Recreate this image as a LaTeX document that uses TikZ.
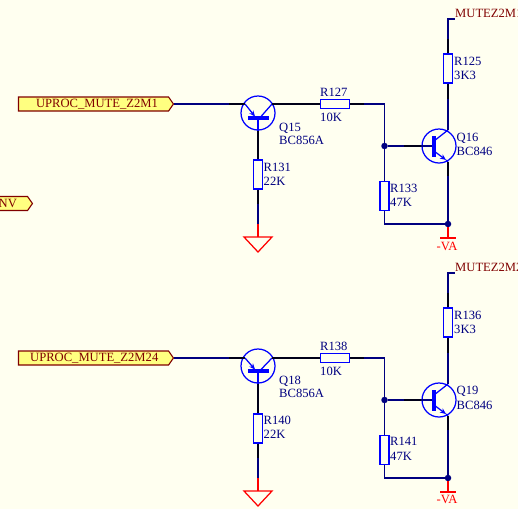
\documentclass[tikz,border=0pt]{standalone}
\usepackage{xcolor}
\usepackage{fontspec}
\setmainfont{Liberation Serif}
\usetikzlibrary{shapes.symbols,arrows.meta}
\definecolor{sheetbg}{RGB}{255,255,240}
\definecolor{wirecol}{RGB}{0,0,128}
\definecolor{partcol}{RGB}{0,0,255}
\definecolor{portcol}{RGB}{128,0,0}
\definecolor{portfill}{RGB}{255,255,128}
\tikzset{
  wire/.style={wirecol, line width=1.25pt},
  pinwire/.style={black!80!wirecol, line width=1.25pt},
  power/.style={red, line width=1.25pt},
  part/.style={partcol, line width=1.25pt},
  lbl/.style={anchor=base west, inner sep=0pt, text=wirecol, font=\fontsize{12.6}{14}\selectfont},
  netlbl/.style={lbl, text=portcol},
  powlbl/.style={lbl, text=red},
  res/.style={draw=partcol, line width=1.25pt, inner sep=0pt, minimum width=9pt, minimum height=29pt},
  resh/.style={res, minimum width=29pt, minimum height=9pt},
  qbody/.style={circle, draw=partcol, line width=1.25pt, inner sep=0pt, minimum size=34pt},
  qbarh/.style={fill=partcol, inner sep=0pt, minimum width=21pt, minimum height=3.2pt},
  qbarv/.style={fill=partcol, inner sep=0pt, minimum width=3.2pt, minimum height=21pt},
  dot/.style={circle, fill=wirecol, inner sep=0pt, minimum size=6.5pt},
  port/.style={signal, signal to=east, signal pointer angle=110, draw=portcol, fill=portfill, line width=1.1pt, inner sep=0pt, minimum height=14pt, text=portcol, font=\fontsize{12.6}{14}\selectfont},
  gnd/.style={draw=red, line width=1.25pt, line join=miter},
  emit/.style={part, -{Stealth[length=6pt,width=5pt]}}
}
\begin{document}
\begin{tikzpicture}[x=1pt, y=-1pt]
    \useasboundingbox (0,0) rectangle (518,509);
    \fill[sheetbg] (0,0) rectangle (518,509);

    % upper channel
    \node (port1) at (93.5,104) [port, minimum width=155pt] {\hspace*{7pt}UPROC\_MUTE\_Z2M1};
    \node (portnv) at (-2,203.5) [port, minimum width=64pt] {};
    \node (nvlbl) at (-1.5,207.5) [netlbl] {NV};
    \node (Q15) at (258,113) [qbody] {};
    \node (Q15bar) at (258,118) [qbarh] {};
    \node (R127) at (335,104) [resh] {};
    \node (R131) at (258,174.5) [res] {};
    \node (R133) at (384.5,196) [res] {};
    \node (Q16) at (439,146) [qbody] {};
    \node (Q16bar) at (434,146) [qbarv] {};
    \node (R125) at (448,68.5) [res] {};
    \node (j1) at (384.5,146) [dot] {};
    \node (j2) at (448,224) [dot] {};
    \coordinate (Q15e) at (245,104);
    \coordinate (Q15c) at (272,104);
    \coordinate (Q16c) at (448,130);
    \coordinate (Q16e) at (448,162);
    \coordinate (c1) at (384.5,104);
    \coordinate (net1) at (448,19);
    \coordinate (net1end) at (455,19);
    \coordinate (gnd1) at (258,237);
    \coordinate (va1) at (448,238);

    \draw[wire] (port1.east) -- (Q15e);
    \draw[pinwire] (Q15e) -- ++(-16,0);
    \draw[emit] (Q15e) -- (255,116.5);
    \draw[part] (Q15c) -- (261,116.5);
    \draw[pinwire] (Q15c) -- (R127.west);
    \draw[wire] (R127.east) -- (c1) -- (j1) -- (R133.north);
    \draw[pinwire] (R127.east) -- ++(14,0);
    \draw[wire] (R133.south) |- (j2) -- (Q16e);
    \draw[wire] (j1) -- (Q16bar.west);
    \draw[pinwire] (Q16.west) -- ++(-17,0);
    \draw[part] (Q16bar.center) ++(0,-5) -- (Q16c);
    \draw[emit] (Q16bar.center) ++(0,5) -- (446,160);
    \draw[part] (446,160) -- (Q16e);
    \draw[pinwire] (Q16e) -- ++(0,14);
    \draw[wire] (Q16c) -- (R125.south);
    \draw[pinwire] (R125.south) -- ++(0,15);
    \draw[wire] (R125.north) -- (net1) -- (net1end);
    \draw[pinwire] (R125.north) -- ++(0,-14);
    \draw[part] (Q15bar.center) -- (Q15.south);
    \draw[pinwire] (Q15.south) -- (R131.north);
    \draw[wire] (R131.south) -- (258,224);
    \draw[pinwire] (R131.south) -- ++(0,14);
    \draw[power] (258,224) -- (gnd1);
    \draw[gnd] (244,237) -- (272,237) -- (258,252) -- cycle;
    \draw[power] (j2) -- (va1);
    \draw[power] (440,238) -- (456,238);

    \node (R127t) at (320,96) [lbl] {R127};
    \node (R127v) at (320,121) [lbl] {10K};
    \node (Q15t) at (279,131) [lbl] {Q15};
    \node (Q15v) at (279,144) [lbl] {BC856A};
    \node (R131t) at (263.5,171.5) [lbl] {R131};
    \node (R131v) at (263.5,185.5) [lbl] {22K};
    \node (R133t) at (390,192) [lbl] {R133};
    \node (R133v) at (390,206.5) [lbl] {47K};
    \node (Q16t) at (456.5,141) [lbl] {Q16};
    \node (Q16v) at (456.5,155) [lbl] {BC846};
    \node (R125t) at (454,65) [lbl] {R125};
    \node (R125v) at (454,79) [lbl] {3K3};
    \node (net1t) at (455,17) [netlbl] {MUTEZ2M1};
    \node (va1t) at (436.5,250) [powlbl] {-VA};

    % lower channel
    \node (port2) at (93.5,358) [port, minimum width=155pt] {\hspace*{1.5pt}UPROC\_MUTE\_Z2M24};
    \node (Q18) at (258,366) [qbody] {};
    \node (Q18bar) at (258,371) [qbarh] {};
    \node (R138) at (335,358) [resh] {};
    \node (R140) at (258,428.5) [res] {};
    \node (R141) at (384.5,450) [res] {};
    \node (Q19) at (439,400) [qbody] {};
    \node (Q19bar) at (434,400) [qbarv] {};
    \node (R136) at (448,322.5) [res] {};
    \node (j3) at (384.5,400) [dot] {};
    \node (j4) at (448,478) [dot] {};
    \coordinate (Q18e) at (245,358);
    \coordinate (Q18c) at (272,358);
    \coordinate (Q19c) at (448,384);
    \coordinate (Q19e) at (448,416);
    \coordinate (c3) at (384.5,358);
    \coordinate (net2) at (448,273);
    \coordinate (net2end) at (455,273);
    \coordinate (gnd2) at (258,491);
    \coordinate (va2) at (448,492);

    \draw[wire] (port2.east) -- (Q18e);
    \draw[pinwire] (Q18e) -- ++(-16,0);
    \draw[emit] (Q18e) -- (255,369.5);
    \draw[part] (Q18c) -- (261,369.5);
    \draw[pinwire] (Q18c) -- (R138.west);
    \draw[wire] (R138.east) -- (c3) -- (j3) -- (R141.north);
    \draw[pinwire] (R138.east) -- ++(14,0);
    \draw[wire] (R141.south) |- (j4) -- (Q19e);
    \draw[wire] (j3) -- (Q19bar.west);
    \draw[pinwire] (Q19.west) -- ++(-17,0);
    \draw[part] (Q19bar.center) ++(0,-5) -- (Q19c);
    \draw[emit] (Q19bar.center) ++(0,5) -- (446,414);
    \draw[part] (446,414) -- (Q19e);
    \draw[pinwire] (Q19e) -- ++(0,14);
    \draw[wire] (Q19c) -- (R136.south);
    \draw[pinwire] (R136.south) -- ++(0,15);
    \draw[wire] (R136.north) -- (net2) -- (net2end);
    \draw[pinwire] (R136.north) -- ++(0,-14);
    \draw[part] (Q18bar.center) -- (Q18.south);
    \draw[pinwire] (Q18.south) -- (R140.north);
    \draw[wire] (R140.south) -- (258,478);
    \draw[pinwire] (R140.south) -- ++(0,14);
    \draw[power] (258,478) -- (gnd2);
    \draw[gnd] (244,491) -- (272,491) -- (258,506) -- cycle;
    \draw[power] (j4) -- (va2);
    \draw[power] (440,492) -- (456,492);

    \node (R138t) at (320,350) [lbl] {R138};
    \node (R138v) at (320,375) [lbl] {10K};
    \node (Q18t) at (279,384) [lbl] {Q18};
    \node (Q18v) at (279,397) [lbl] {BC856A};
    \node (R140t) at (263.5,424.5) [lbl] {R140};
    \node (R140v) at (263.5,438.5) [lbl] {22K};
    \node (R141t) at (390,445.5) [lbl] {R141};
    \node (R141v) at (390,460) [lbl] {47K};
    \node (Q19t) at (456.5,394.5) [lbl] {Q19};
    \node (Q19v) at (456.5,409) [lbl] {BC846};
    \node (R136t) at (454,319) [lbl] {R136};
    \node (R136v) at (454,333) [lbl] {3K3};
    \node (net2t) at (455,271) [netlbl] {MUTEZ2M24};
    \node (va2t) at (436.5,503) [powlbl] {-VA};
\end{tikzpicture}
\end{document}
